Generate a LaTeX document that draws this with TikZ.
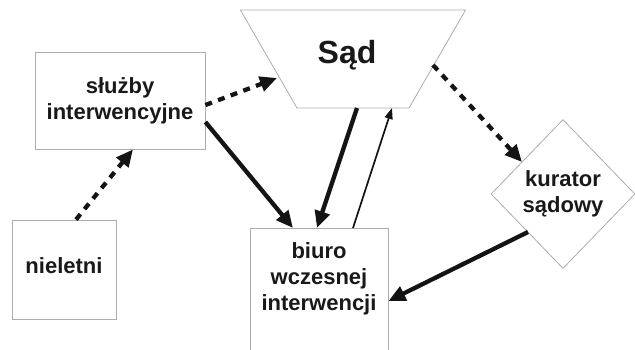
\documentclass[tikz,border=0pt]{standalone}
\usepackage{fontspec}
\setmainfont{Liberation Sans}
\usetikzlibrary{arrows.meta, shapes.geometric, positioning, calc}

\begin{document}
\begin{tikzpicture}[
  x=1pt, y=-1pt,
  box/.style = {
    draw=gray!65, line width=0.8pt, align=center, text=black!90,
    font=\bfseries\fontsize{22}{26}\selectfont, inner sep=4pt
  },
  sad shape/.style = {
    trapezium, shape border rotate=180, trapezium angle=60,
    text width=112pt, text height=98pt, text depth=0pt,
    draw=gray!65, line width=0.8pt, inner sep=0pt
  },
  kurator shape/.style = {
    box, diamond, minimum width=144pt, minimum height=149pt, inner sep=0pt
  },
  arr/.style = {-{Triangle[length=17pt, width=15pt]}, line width=4.3pt, draw=black!92},
  dasharr/.style = {arr, dash pattern=on 7pt off 6.5pt},
  thinarr/.style = {-{Triangle[length=11pt, width=8pt]}, line width=1.7pt, draw=black!92},
]
\useasboundingbox (0,0) rectangle (635,349);

% nodes
\node[box, minimum width=170pt, minimum height=97pt] (sluzby) at (120,100.5)
  {służby\\interwencyjne};
\node[box, minimum width=104pt, minimum height=99pt, text depth=8pt] (nieletni) at (64,269.5)
  {nieletni};
\node[sad shape] (sad) at (353,59) {};
\node[font=\bfseries\fontsize{32}{36}\selectfont, text=black!90] (sadtext) at (347,55) {Sąd};
\node[box, anchor=north, minimum width=138pt, inner ysep=14pt, text depth=70pt] (biuro) at (319,228)
  {biuro\\wczesnej\\interwencji};
\node[kurator shape] (kurator) at (563,194) {kurator\\sądowy};

% connectors
\draw[dasharr] ([shift={(12,0)}]nieletni.north) -- ([shift={(13,0)}]sluzby.south);
\draw[dasharr] ([shift={(0,4.5)}]sluzby.east) -- ([shift={(-76,19)}]sad.center);
\draw[arr] ([shift={(0,21.5)}]sluzby.east) -- ([shift={(-26,0)}]biuro.north);
\draw[arr] ([shift={(4,49)}]sad.center) -- ([shift={(-2,0)}]biuro.north);
\draw[thinarr] ([shift={(34,0)}]biuro.north) -- ([shift={(39,49)}]sad.center);
\draw[dasharr] ([shift={(80,6)}]sad.center) -- ([shift={(-41,-32)}]kurator.center);
\draw[arr] ([shift={(-35,38)}]kurator.center) -- ([shift={(0,73)}]biuro.north east);

\end{tikzpicture}
\end{document}
